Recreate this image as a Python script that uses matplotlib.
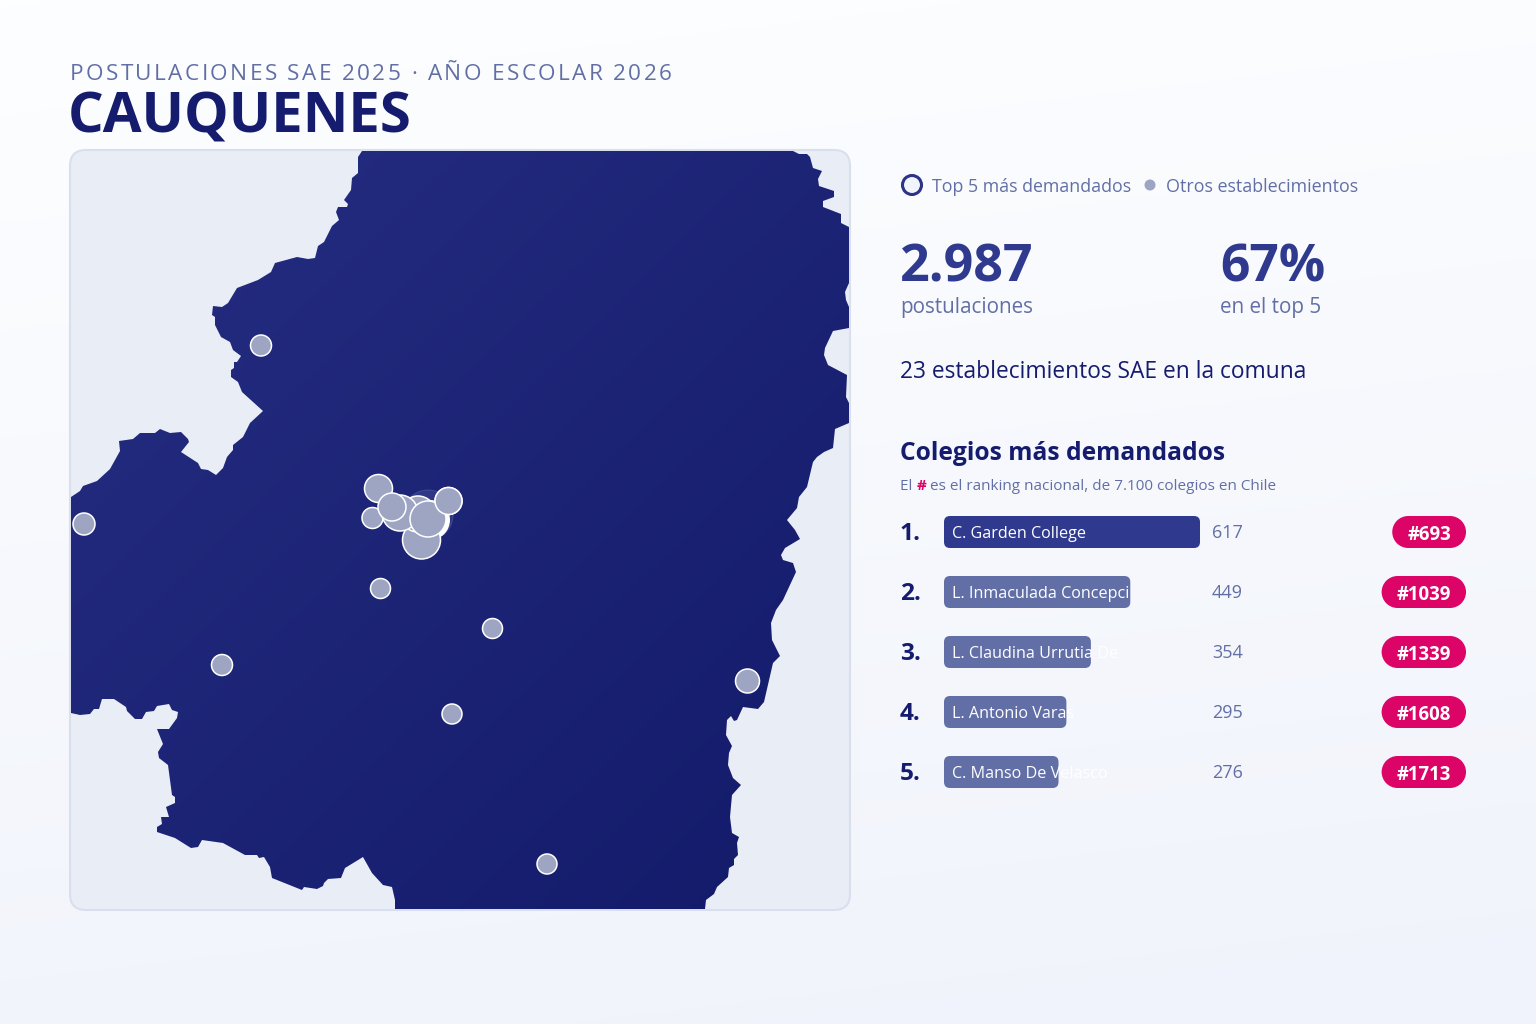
import numpy as np
import matplotlib
matplotlib.use("Agg")
import matplotlib.pyplot as plt
from matplotlib.colors import LinearSegmentedColormap
from matplotlib.patches import Circle, FancyBboxPatch, Polygon, Rectangle

plt.rcParams['font.family'] = ['Open Sans', 'DejaVu Sans']

# comuna outline in pixels
map_x = [362, 358, 358, 352, 351, 344, 348, 347, 338, 336, 339, 332, 324, 318, 315, 308, 297, 275, 271, 258,
         237, 228, 222, 213, 212, 215, 215, 221, 230, 233, 241, 237, 234, 234, 231, 231, 238, 242, 263, 250,
         243, 233, 233, 227, 223, 216, 208, 201, 198, 181, 189, 188, 181, 170, 160, 155, 140, 133, 119, 120,
         110, 97, 83, 80, 71, 71, 80, 90, 94, 99, 102, 114, 126, 127, 135, 142, 146, 154, 157, 169,
         172, 178, 177, 169, 157, 163, 158, 159, 168, 172, 175, 175, 166, 169, 161, 162, 157, 157, 175, 191,
         198, 202, 223, 245, 257, 259, 264, 270, 272, 302, 304, 317, 323, 324, 328, 341, 345, 363, 372, 383,
         392, 395, 395, 705, 706, 714, 717, 728, 729, 734, 734, 738, 737, 739, 732, 730, 732, 741, 733, 728,
         729, 732, 726, 727, 731, 734, 737, 743, 758, 764, 773, 780, 772, 771, 776, 783, 796, 793, 783, 781,
         785, 800, 795, 787, 797, 799, 807, 813, 817, 824, 833, 835, 849, 849, 846, 847, 828, 824, 825, 833,
         849, 849, 846, 845, 849, 849, 841, 841, 823, 823, 834, 834, 819, 818, 822, 813, 810, 807, 799, 793]
map_y = [151, 157, 173, 178, 190, 200, 204, 207, 207, 212, 220, 226, 242, 246, 258, 259, 257, 263, 272, 280,
         288, 303, 307, 306, 315, 317, 325, 337, 342, 350, 356, 362, 362, 368, 370, 377, 382, 392, 411, 423,
         437, 445, 450, 457, 468, 475, 470, 469, 463, 452, 442, 439, 432, 433, 429, 433, 433, 439, 441, 451,
         469, 481, 486, 491, 497, 713, 715, 714, 709, 709, 699, 699, 707, 711, 719, 719, 712, 711, 706, 704,
         710, 712, 718, 729, 729, 744, 752, 758, 765, 795, 797, 803, 807, 817, 817, 824, 827, 832, 838, 848,
         847, 840, 843, 855, 855, 858, 857, 867, 878, 890, 887, 889, 886, 883, 879, 878, 868, 857, 873, 885,
         887, 900, 909, 909, 900, 894, 887, 877, 868, 865, 859, 855, 843, 837, 833, 817, 795, 785, 778, 765,
         753, 746, 735, 720, 716, 721, 720, 707, 709, 702, 663, 656, 640, 623, 610, 600, 572, 563, 560, 555,
         548, 539, 530, 520, 508, 497, 487, 462, 457, 452, 448, 429, 423, 403, 397, 375, 365, 355, 348, 331,
         328, 307, 300, 292, 283, 227, 223, 214, 207, 201, 197, 191, 186, 179, 171, 168, 157, 154, 154, 151]

# schools on the map: pixel position and radius
others_x = [261, 84, 222, 380.5, 492.5, 452, 747.5, 547, 372.5, 378.5, 448.5]
others_y = [345.5, 524, 665, 588.5, 628.5, 714, 681, 864, 518, 488.5, 501]
others_r = [10.5, 11, 10.5, 10, 10, 10, 12, 10, 10.5, 14, 13.5]
top_x = [421.5, 418, 400, 428, 392]
top_y = [540, 514, 513, 519, 507]
top_r = [19, 18, 18, 18, 14]

schools = ["C. Garden College", "L. Inmaculada Concepci", "L. Claudina Urrutia De", "L. Antonio Varas", "C. Manso De Velasco"]
applications = [617, 449, 354, 295, 276]
national_rank = [693, 1039, 1339, 1608, 1713]

NAVY = "#151c6e"
BLUE = "#2f3a8f"
SLATE = "#626fa6"
DOT = "#9da5c3"
PINK = "#dc0466"

fig = plt.figure(figsize=(15.36, 10.24), dpi=100)
ax = fig.add_axes([0, 0, 1, 1])


def gradient(c0, c1, extent, angle, zorder):
    h, w = 200, 300
    xx, yy = np.meshgrid(np.linspace(0, 1, w), np.linspace(0, 1, h))
    t = xx * angle + yy * (1 - angle)
    cmap = LinearSegmentedColormap.from_list("g", [c0, c1])
    return ax.imshow(t, cmap=cmap, extent=extent, aspect="auto", zorder=zorder, vmin=0, vmax=1, interpolation="bilinear")


def px(size):
    # css pixels to points
    return size * 0.72


def label(x, y, s, size, color, weight="normal", ha="left", **kw):
    return ax.text(x, y, s, fontsize=px(size), color=color, fontweight=weight, ha=ha, va="center_baseline", **kw)


def text_width(s, size, weight="normal"):
    t = ax.text(0, 0, s, fontsize=px(size), fontweight=weight)
    w = t.get_window_extent(fig.canvas.get_renderer()).width
    t.remove()
    return w


def spaced(x, y, s, size, color, spacing):
    # matplotlib has no letter spacing, so place the letters one at a time
    ref = text_width("nn", size)
    for ch in s:
        label(x, y, ch, size, color)
        x += text_width("n" + ch + "n", size) - ref + spacing


gradient("#fdfeff", "#f0f3fb", (0, 1536, 1024, 0), 0.15, 0)

panel = FancyBboxPatch((70, 150), 780, 760, boxstyle="round,pad=0,rounding_size=16",
                       facecolor="#e9edf6", edgecolor="#dadfee", linewidth=1.5, zorder=1)
ax.add_patch(panel)

outline = Polygon(np.column_stack([map_x, map_y]), closed=True, facecolor="none", edgecolor="none", zorder=2)
ax.add_patch(outline)
land = gradient("#262e82", "#131a6a", (71, 849, 909, 151), 0.5, 2)
land.set_clip_path(outline)

# halo around the central cluster
ax.add_patch(Circle((428, 515), 25, facecolor="#3d4693", edgecolor="#5a639f", linewidth=0.7, alpha=0.55, zorder=3))
ax.add_patch(Circle((430, 520), 20, facecolor="white", edgecolor="none", zorder=3))

for x, y, r in zip(others_x, others_y, others_r):
    ax.add_patch(Circle((x, y), r, facecolor=DOT, edgecolor="white", linewidth=1.1, zorder=4))
for x, y, r in zip(top_x, top_y, top_r):
    ax.add_patch(Circle((x, y), r, facecolor=DOT, edgecolor="white", linewidth=1.1, zorder=5))
ax.add_patch(Circle((448.5, 501), 13.5, facecolor=DOT, edgecolor="white", linewidth=1.1, zorder=6))

spaced(70, 72, "POSTULACIONES SAE 2025 · AÑO ESCOLAR 2026", 22.5, SLATE, 2.37)
label(68, 112, "CAUQUENES", 56.3, NAVY, "bold")

# legend
ax.add_patch(Circle((912, 185), 9.5, facecolor="#f2f4fc", edgecolor="#2b3486", linewidth=2.2, zorder=3))
label(932, 185, "Top 5 más demandados", 17.8, SLATE)
ax.add_patch(Circle((1150, 185), 5.5, facecolor=DOT, edgecolor="none", zorder=3))
label(1166, 185, "Otros establecimientos", 17.85, SLATE)

label(900, 262, "2.987", 52, BLUE, "bold")
label(900, 304.5, "postulaciones", 20.7, SLATE)
label(1220, 262, "67%", 51.5, BLUE, "bold")
label(1220, 304.5, "en el top 5", 20.7, SLATE)
label(900, 369.5, "23 establecimientos SAE en la comuna", 22.75, NAVY)

label(900, 451, "Colegios más demandados", 24.6, NAVY, "bold")
x = 900
label(x, 484, "El ", 15.2, SLATE)
x += text_width("El n", 15.2) - text_width("n", 15.2)
label(x, 484, "#", 15.2, PINK, "bold")
x += text_width("#n", 15.2, "bold") - text_width("n", 15.2, "bold")
label(x, 484, " es el ranking nacional, de 7.100 colegios en Chile", 15.2, SLATE)

bar_scale = 256 / max(applications)
for i, (name, value, rank) in enumerate(zip(schools, applications, national_rank)):
    y = 532 + 60 * i
    label(900, y - 0.5, f"{i + 1}.", 24.5, NAVY, "bold")
    bar = FancyBboxPatch((944, y - 16), value * bar_scale, 32, boxstyle="round,pad=0,rounding_size=6",
                         facecolor=BLUE if i == 0 else SLATE, edgecolor="none", zorder=3)
    ax.add_patch(bar)
    label(952, y, name, 16.15, "white", zorder=4)
    label(1212, y - 0.5, str(value), 18, SLATE)
    tag = f"#{rank}"
    w = text_width(tag, 18.7, "bold") + 30
    # pill: a rectangle with a half circle at each end
    ax.add_patch(Rectangle((1466 - w + 16, y - 16), w - 32, 32, facecolor=PINK, edgecolor="none", zorder=3))
    ax.add_patch(Circle((1466 - w + 16, y), 16, facecolor=PINK, edgecolor="none", zorder=3))
    ax.add_patch(Circle((1466 - 16, y), 16, facecolor=PINK, edgecolor="none", zorder=3))
    label(1466 - w / 2, y, tag, 18.7, "white", "bold", ha="center", zorder=4)

ax.set_xlim(0, 1536)
ax.set_ylim(1024, 0)
ax.axis("off")
fig.savefig("out.png", dpi=100)
